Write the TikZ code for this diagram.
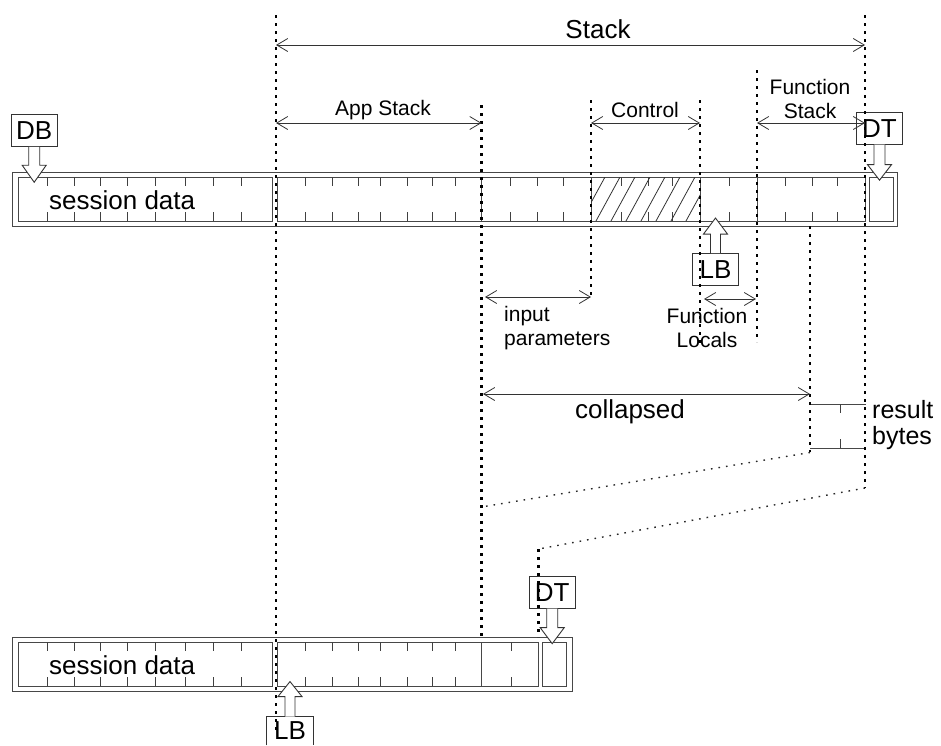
\documentclass[tikz,border=0pt]{standalone}
\usepackage{fontspec}
\setmainfont{Liberation Sans}
\usetikzlibrary{arrows.meta}
\begin{document}
\begin{tikzpicture}[x=1pt,y=-1pt,
  bar/.style={draw=black!72, line width=1pt},
  tck/.style={draw=black!75, line width=0.9pt},
  vdot/.style={draw=black, line width=2.3pt, dash pattern=on 3pt off 5pt},
  ddot/.style={draw=black!85, line width=1.4pt, dash pattern=on 1.6pt off 6pt},
  dim/.style={draw=black!80, line width=0.8pt, {Straight Barb[length=11pt,width=13pt]}-{Straight Barb[length=11pt,width=13pt]}},
  lbl/.style={font=\fontsize{21}{24}\selectfont, inner sep=0pt},
  big/.style={font=\fontsize{26}{26}\selectfont, inner sep=0pt},
  tag/.style={draw=black!80, line width=0.9pt, font=\fontsize{26}{26}\selectfont, inner sep=0pt, minimum width=46pt, minimum height=32pt},
  blk/.style={draw=black!80, line width=0.9pt, fill=white, line join=miter},
]
\useasboundingbox (0,0) rectangle (941,745);

% ---------- top bar ----------
\draw[bar] (12,172) rectangle (897.5,226);
\draw[bar] (18,177) rectangle (272,221);
\draw[bar] (277,177) rectangle (865,221);
\draw[bar] (869,177) rectangle (893,221);
\foreach \x in {481.5,591,700,757} \draw[bar] (\x,177) -- (\x,221);
\foreach \x in {47.7,74,100,127.7,155,185,213.3,241.7,305.7,332.7,358.3,380,407.3,432.7,455,510.7,537.7,563.3,621,648.3,672.7,729.3,785,812.3,837.7}
  {\draw[tck] (\x,177) -- (\x,186); \draw[tck] (\x,212) -- (\x,221);}
\begin{scope}
  \clip (591,177) rectangle (700,221);
  \foreach \x in {575,590,...,725} \draw[black!80, line width=0.8pt] (\x-24,221) -- (\x,177);
\end{scope}

% ---------- bottom bar ----------
\draw[bar] (12,637) rectangle (572,691);
\draw[bar] (18,642) rectangle (272,686);
\draw[bar] (277,642) rectangle (538,686);
\draw[bar] (542,642) rectangle (566,686);
\draw[bar] (481.5,642) -- (481.5,686);
\foreach \x in {47.7,74,100,127.7,155,185,213.3,241.7,305.7,332.7,358.3,380,407.3,432.7,455,511}
  {\draw[tck] (\x,642) -- (\x,651); \draw[tck] (\x,677) -- (\x,686);}

% ---------- result bytes ----------
\draw[bar] (810,404) -- (866,404);
\draw[bar] (810,448) -- (866,448);
\draw[tck] (840,404) -- (840,413);
\draw[tck] (840,439) -- (840,448);

% ---------- tags with block arrows ----------
\node[tag] (DB) at (34.2,130.3) {DB};
\draw[blk] ([xshift=-5.5pt]DB.south) -- ++(0,18.5) -- ++(-6.5,0) -- ++(12,17) -- ++(12,-17) -- ++(-6.5,0) -- ([xshift=5.5pt]DB.south);
\node[tag] (DT1) at (879.5,128.2) {DT};
\draw[blk] ([xshift=-5.5pt]DT1.south) -- ++(0,20) -- ++(-6.5,0) -- ++(12,15.5) -- ++(12,-15.5) -- ++(-6.5,0) -- ([xshift=5.5pt]DT1.south);
\node[tag] (LB1) at (715.5,269.5) {LB};
\draw[blk] ([xshift=-5pt]LB1.north) -- ++(0,-19) -- ++(-7,0) -- ++(12,-16) -- ++(12,16) -- ++(-7,0) -- ([xshift=5pt]LB1.north);
\node[tag] (DT2) at (552.2,592.2) {DT};
\draw[blk] ([xshift=-5.5pt]DT2.south) -- ++(0,19) -- ++(-6.5,0) -- ++(12,16) -- ++(12,-16) -- ++(-6.5,0) -- ([xshift=5.5pt]DT2.south);
\node[tag, draw=none, minimum height=28pt] (LB2) at (290,731) {LB};
\draw[draw=black!80, line width=0.9pt] (LB2.south west) -- (LB2.north west) -- (LB2.north east) -- (LB2.south east);
\draw[blk] ([xshift=-5pt]LB2.north) -- ++(0,-20) -- ++(-7,0) -- ++(12,-15) -- ++(12,15) -- ++(-7,0) -- ([xshift=5pt]LB2.north);

% ---------- dotted guide lines ----------
\draw[vdot] (276,15) -- (276,730);
\draw[vdot] (865,15) -- (865,488);
\draw[vdot] (757,70) -- (757,342);
\draw[vdot] (481.5,105) -- (481.5,637);
\draw[vdot] (591,100) -- (591,297);
\draw[vdot] (700,100) -- (700,345);
\draw[vdot] (810,226) -- (810,452);
\draw[vdot] (538.5,549) -- (538.5,637);
\draw[ddot] (865,488) -- (538.5,549);
\draw[ddot] (810,452.5) -- (481.5,507);

% ---------- dimension arrows ----------
\coordinate (s1) at (276,45);  \coordinate (s2) at (865,45);
\coordinate (a1) at (276,123); \coordinate (a2) at (481.5,123);
\coordinate (c1) at (591,123); \coordinate (c2) at (700,123);
\coordinate (f1) at (757,123); \coordinate (f2) at (865,123);
\coordinate (i1) at (485,297); \coordinate (i2) at (591,297);
\coordinate (l1) at (704,299); \coordinate (l2) at (756,299);
\coordinate (k1) at (483,394); \coordinate (k2) at (810,394);
\draw[dim] (s1) -- (s2);
\draw[dim] (a1) -- (a2);
\draw[dim] (c1) -- (c2);
\draw[dim] (f1) -- (f2);
\draw[dim] (i1) -- (i2);
\draw[dim] (l1) -- (l2);
\draw[dim] (k1) -- (k2);

% ---------- labels ----------
\node[font=\fontsize{26}{26}\selectfont, inner sep=0pt] (tstack) at (598,29) {Stack};
\node[lbl] (tapp) at (383,110) {App Stack};
\node[lbl] (tctl) at (645,110) {Control};
\node[lbl, align=center] (tfs) at (810,99) {Function\\Stack};
\node[lbl, align=left, anchor=west] (tin) at (504,328) {input\\parameters};
\node[lbl, align=center] (tfl) at (707,328) {Function\\Locals};
\node[big] (tcol) at (630,412) {collapsed};
\node[font=\fontsize{25}{26}\selectfont, inner sep=0pt, align=left, anchor=west] (tres) at (872,425) {result\\bytes};
\node[big, anchor=west] (tsd1) at (49,200) {session data};
\node[big, anchor=west] (tsd2) at (49,665) {session data};
\end{tikzpicture}
\end{document}
